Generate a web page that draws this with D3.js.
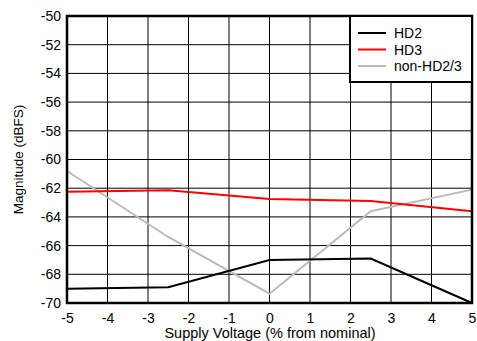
<!DOCTYPE html>
<html><head><meta charset="utf-8">
<script src="https://cdn.jsdelivr.net/npm/d3@7"></script>
<style>body{margin:0;background:#fff;overflow:hidden}svg{display:block;font-family:"Liberation Sans",Arial,sans-serif}</style>
</head><body>
<svg id="c" width="477" height="341"></svg>
<script>
const xVals = [-5, -2.5, 0, 2.5, 5];
const hd2 = [-69.0, -68.9, -67.0, -66.9, -70.0];
const hd3 = [-62.25, -62.15, -62.75, -62.9, -63.6];
const nonHd = [-60.8, -65.4, -69.35, -63.6, -62.1];
const xTicks = [-5,-4,-3,-2,-1,0,1,2,3,4,5];
const yTicks = [-50,-52,-54,-56,-58,-60,-62,-64,-66,-68,-70];
const seriesNames = ["HD2","HD3","non-HD2/3"];
const seriesColors = ["#000000","#ff0000","#bbbbbb"];

const svg = d3.select("#c");
const L=67, R=472, T=16, B=303;
const x = d3.scaleLinear().domain([-5,5]).range([L,R]);
const y = d3.scaleLinear().domain([-70,-50]).range([B,T]);
const fmt = d => String(d);

// grid
svg.append("g").selectAll("line").data(xTicks).join("line")
  .attr("x1",d=>x(d)).attr("x2",d=>x(d)).attr("y1",T).attr("y2",B)
  .attr("stroke","#000").attr("stroke-width",1);
svg.append("g").selectAll("line").data(yTicks).join("line")
  .attr("y1",d=>y(d)).attr("y2",d=>y(d)).attr("x1",L).attr("x2",R)
  .attr("stroke","#000").attr("stroke-width",1);

// axes labels
const xa = svg.append("g").attr("transform",`translate(0,${B})`)
  .call(d3.axisBottom(x).tickValues(xTicks).tickSize(0).tickPadding(10).tickFormat(fmt));
xa.select(".domain").remove();
xa.selectAll("text").attr("font-size",14).attr("fill","#000").attr("font-family","Liberation Sans, Arial, sans-serif");
const ya = svg.append("g").attr("transform",`translate(${L},0)`)
  .call(d3.axisLeft(y).tickValues(yTicks).tickSize(0).tickPadding(6).tickFormat(fmt));
ya.select(".domain").remove();
ya.selectAll("text").attr("font-size",14).attr("fill","#000").attr("font-family","Liberation Sans, Arial, sans-serif");

const line = d3.line().x((d,i)=>x(xVals[i])).y(d=>y(d));
[nonHd, hd3, hd2].forEach((s,k)=>{
  const idx = [2,1,0][k];
  svg.append("path").attr("d",line(s)).attr("fill","none")
    .attr("stroke",seriesColors[idx]).attr("stroke-width",2);
});

// frame
svg.append("rect").attr("x",L).attr("y",T).attr("width",R-L).attr("height",B-T)
  .attr("fill","none").attr("stroke","#000").attr("stroke-width",2.5);

// legend
const lg = svg.append("g");
lg.append("rect").attr("x",350).attr("y",T).attr("width",R-350).attr("height",66)
  .attr("fill","#fff").attr("stroke","#000").attr("stroke-width",2);
seriesNames.forEach((n,i)=>{
  const yy = 33 + i*16.5;
  lg.append("line").attr("x1",358).attr("x2",386).attr("y1",yy).attr("y2",yy)
    .attr("stroke",seriesColors[i]).attr("stroke-width",2);
  lg.append("text").attr("x",394).attr("y",yy+5).attr("font-size",14).text(n);
});

svg.append("text").attr("transform",`translate(23,${(T+B)/2}) rotate(-90)`)
  .attr("text-anchor","middle").attr("font-size",13.5).text("Magnitude (dBFS)");
svg.append("text").attr("x",270).attr("y",337.5).attr("text-anchor","middle")
  .attr("font-size",14.5).text("Supply Voltage (% from nominal)");
</script>
</body></html>
